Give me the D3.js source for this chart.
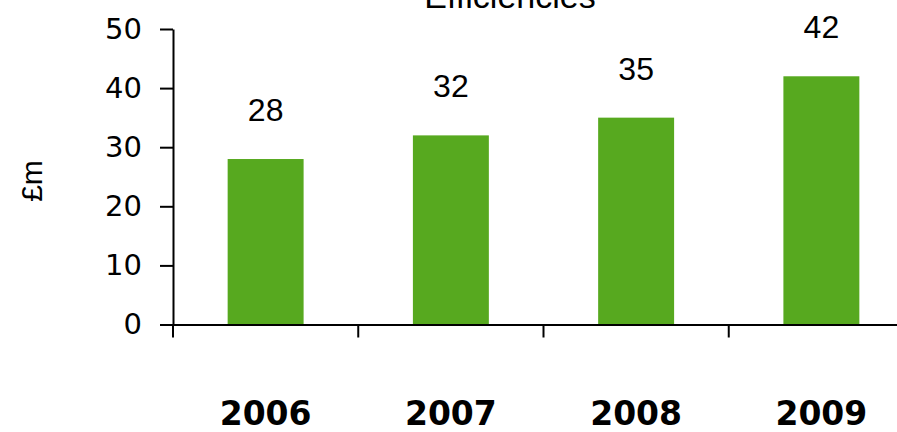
<!DOCTYPE html>
<html><head><meta charset="utf-8">
<script src="https://cdn.jsdelivr.net/npm/d3@7"></script>
<style>body{margin:0;background:#fff}svg{display:block}</style>
</head><body>
<svg id="c" width="897" height="432"></svg>
<script>
const categories = ["2006","2007","2008","2009"];
const values = [28, 32, 35, 42];
const yTicks = [0,10,20,30,40,50];
const title = "Efficiencies";
const yLabel = "£m";

const svg = d3.select("#c");
const x0 = 173, x1 = 914, yBottom = 324.5, yTop = 29;
const x = d3.scaleBand().domain(categories).range([x0, x1]).paddingInner(0.59).paddingOuter(0.295);
const y = d3.scaleLinear().domain([0, 50]).range([yBottom, yTop]);

// bars
svg.selectAll("rect.bar").data(values).enter().append("rect")
  .attr("x", (d,i) => x(categories[i]))
  .attr("width", x.bandwidth())
  .attr("y", d => y(d))
  .attr("height", d => y(0) - y(d))
  .attr("fill", "#57A91F");

// value labels
svg.selectAll("text.val").data(values).enter().append("text")
  .attr("x", (d,i) => x(categories[i]) + x.bandwidth()/2)
  .attr("y", d => y(d) - 38)
  .attr("text-anchor", "middle")
  .attr("font-family", "Liberation Sans, Arial, sans-serif")
  .attr("font-size", 32)
  .attr("fill", "#000")
  .text(d => d);

// y axis
const yAxis = d3.axisLeft(y).tickValues(yTicks).tickSize(13).tickPadding(18).tickSizeOuter(0);
const gy = svg.append("g").attr("transform", `translate(${x0},0)`).call(yAxis);
gy.select(".domain").attr("stroke", "#000").attr("stroke-width", 2);
gy.selectAll(".tick line").attr("stroke", "#000").attr("stroke-width", 2);
gy.selectAll(".tick text").attr("font-family", "DejaVu Sans, sans-serif").attr("font-size", 29).attr("fill", "#000");

// x axis line
svg.append("line").attr("x1", x0).attr("x2", 897).attr("y1", yBottom+0.5).attr("y2", yBottom+0.5)
  .attr("stroke", "#000").attr("stroke-width", 2);
const step = x.step();
const bounds = d3.range(categories.length + 1).map(i => x0 + i * step);
svg.selectAll("line.xt").data(bounds).enter().append("line")
  .attr("x1", d => d).attr("x2", d => d)
  .attr("y1", yBottom).attr("y2", yBottom + 13)
  .attr("stroke", "#000").attr("stroke-width", 2);

// category labels
svg.selectAll("text.cat").data(categories).enter().append("text")
  .attr("x", d => x(d) + x.bandwidth()/2)
  .attr("y", 425)
  .attr("text-anchor", "middle")
  .attr("font-family", "DejaVu Sans, sans-serif")
  .attr("font-weight", "bold")
  .attr("font-size", 33)
  .attr("fill", "#000")
  .text(d => d);

// title
svg.append("text").attr("x", 510).attr("y", 8).attr("text-anchor", "middle")
  .attr("font-family", "Liberation Sans, Arial, sans-serif").attr("font-size", 34).attr("fill", "#000")
  .text(title);

// y label
svg.append("text").attr("transform", "translate(42,181) rotate(-90)")
  .attr("text-anchor", "middle")
  .attr("font-family", "Liberation Sans, Arial, sans-serif").attr("font-size", 30).attr("fill", "#000")
  .text(yLabel);
</script>
</body></html>
